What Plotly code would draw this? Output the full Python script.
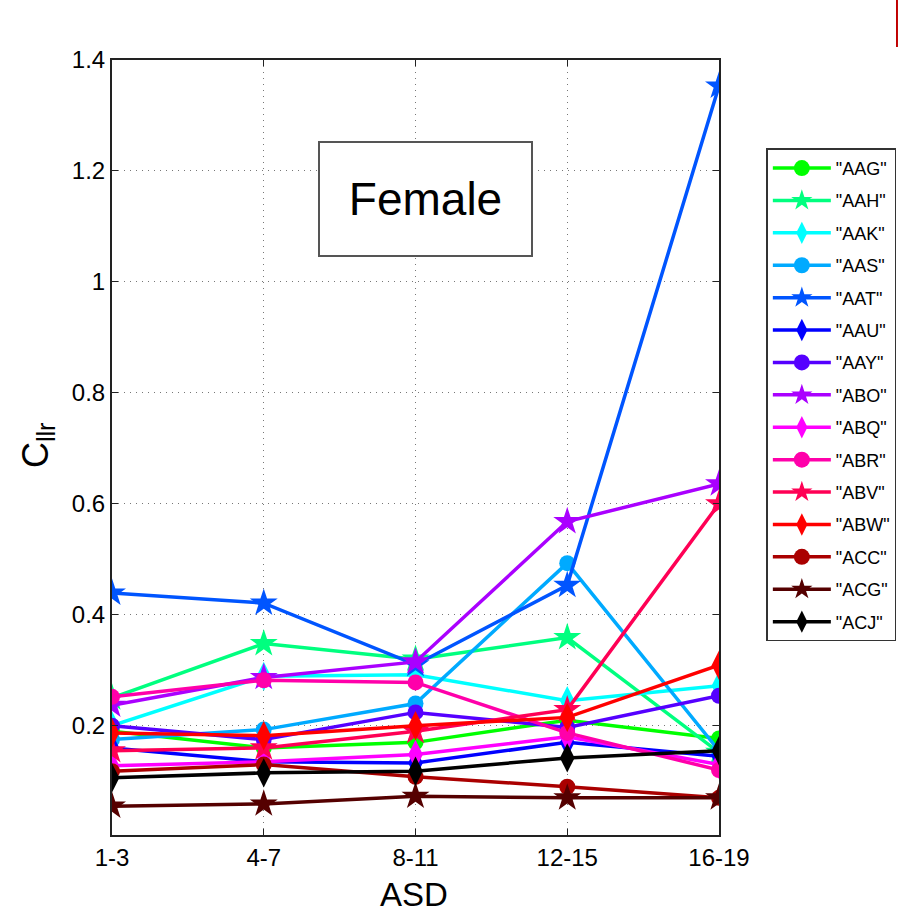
import plotly.graph_objects as go

# ASD bands on the x axis
asd_bands = ["1-3", "4-7", "8-11", "12-15", "16-19"]

# Cllr per speaker across the ASD bands
aag = [0.190, 0.160, 0.170, 0.210, 0.177]
aah = [0.250, 0.348, 0.320, 0.359, 0.152]
aak = [0.200, 0.289, 0.292, 0.245, 0.272]
aas = [0.175, 0.193, 0.240, 0.493, 0.155]
aat = [0.439, 0.421, 0.310, 0.453, 1.353]
aau = [0.160, 0.135, 0.133, 0.170, 0.145]
aay = [0.200, 0.175, 0.224, 0.197, 0.254]
abo = [0.237, 0.287, 0.315, 0.568, 0.636]
abq = [0.128, 0.135, 0.148, 0.180, 0.130]
abr = [0.252, 0.282, 0.278, 0.187, 0.120]
abv = [0.155, 0.160, 0.190, 0.229, 0.600]
abw = [0.187, 0.182, 0.200, 0.215, 0.309]
acc = [0.118, 0.130, 0.108, 0.090, 0.070]
acg = [0.055, 0.059, 0.073, 0.070, 0.070]
acj = [0.106, 0.115, 0.118, 0.142, 0.155]

speakers = ['"AAG"', '"AAH"', '"AAK"', '"AAS"', '"AAT"', '"AAU"', '"AAY"', '"ABO"',
            '"ABQ"', '"ABR"', '"ABV"', '"ABW"', '"ACC"', '"ACG"', '"ACJ"']
series = [aag, aah, aak, aas, aat, aau, aay, abo, abq, abr, abv, abw, acc, acg, acj]
colors = ["#00FF00", "#00FF7F", "#00FFFF", "#00AAFF", "#0055FF", "#0000FF", "#5500FF",
          "#AA00FF", "#FF00FF", "#FF00AA", "#FF0055", "#FF0000", "#AA0000", "#550000",
          "#000000"]
symbols = ["circle", "star", "diamond-tall"]
sizes = {"circle": 16, "star": 21, "diamond-tall": 21}

fig = go.Figure()
for i, (name, vals, col) in enumerate(zip(speakers, series, colors)):
    sym = symbols[i % 3]
    fig.add_trace(go.Scatter(
        x=list(range(len(asd_bands))), y=vals, name=name, mode="lines+markers",
        legendgroup=name,
        line=dict(color=col, width=3.5),
        marker=dict(symbol=sym, size=sizes[sym], color=col, line=dict(width=0)),
    ))

tick_font = dict(family="Liberation Sans, Arial", size=24, color="black")
grid_style = dict(showgrid=True, gridcolor="#777777", griddash="1px,5px", gridwidth=1)

fig.update_layout(
    width=908, height=918,
    margin=dict(l=112, r=182, t=60, b=83),
    paper_bgcolor="white", plot_bgcolor="white",
    showlegend=True,
    legend=dict(
        x=1.078, y=0.886, xanchor="left", yanchor="top",
        bordercolor="#333333", borderwidth=1.5, bgcolor="white",
        font=dict(family="Liberation Sans, Arial", size=18, color="black"),
        tracegroupgap=6, itemwidth=58,
    ),
    xaxis=dict(
        range=[0, 4], tickvals=list(range(len(asd_bands))), ticktext=asd_bands,
        tickfont=tick_font, ticks="inside", ticklen=6, tickcolor="#222",
        showline=True, linecolor="#222", linewidth=2, mirror="ticks",
        zeroline=False, **grid_style,
    ),
    yaxis=dict(
        range=[0.003, 1.4], tickvals=[0.2, 0.4, 0.6, 0.8, 1.0, 1.2, 1.4],
        ticktext=["0.2", "0.4", "0.6", "0.8", "1", "1.2", "1.4"],
        tickfont=tick_font, ticks="inside", ticklen=6, tickcolor="#222",
        showline=True, linecolor="#222", linewidth=2, mirror="ticks",
        zeroline=False, **grid_style,
    ),
    annotations=[
        dict(text="Female", xref="paper", yref="paper", x=0.5171, y=0.8206,
             xanchor="center", yanchor="middle", showarrow=False,
             font=dict(family="Liberation Sans, Arial", size=46, color="black"),
             width=211, height=112, borderpad=0, borderwidth=2,
             bordercolor="#555555", bgcolor="white"),
        dict(text="C<sub>llr</sub>", xref="paper", yref="paper", x=-0.122, y=0.503,
             xanchor="center", yanchor="middle", textangle=-90, showarrow=False,
             font=dict(family="Liberation Sans, Arial", size=36, color="black")),
        dict(text="ASD", xref="paper", yref="paper", x=0.498, y=-0.0774,
             xanchor="center", yanchor="middle", showarrow=False,
             font=dict(family="Liberation Sans, Arial", size=33, color="black")),
    ],
    shapes=[
        dict(type="line", xref="paper", yref="paper", x0=1.2932, x1=1.2932,
             y0=1.0774, y1=1.0168, line=dict(color="#C00000", width=2)),
    ],
)

fig.write_html("out.html")
